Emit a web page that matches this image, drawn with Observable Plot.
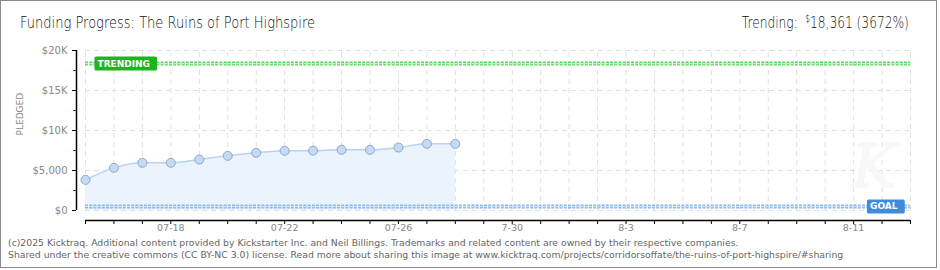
<!DOCTYPE html>
<html><head><meta charset="utf-8">
<script src="https://cdn.jsdelivr.net/npm/d3@7"></script>
<script src="https://cdn.jsdelivr.net/npm/@observablehq/plot@0.6"></script>
<style>
body{margin:0;background:#fff;}
#wrap{position:relative;width:940px;height:270px;overflow:hidden;background:#fff;}
#border{position:absolute;left:0;top:0;width:935px;height:266px;border:1px solid #8a8a8a;box-sizing:content-box;pointer-events:none;}
#chart{position:absolute;left:0;top:0;}
.hdr{position:absolute;font-family:"DejaVu Sans",sans-serif;font-weight:300;font-size:16.5px;color:#111;white-space:nowrap;line-height:1;}
#title{left:20px;top:15px;transform:scaleX(0.79);transform-origin:left top;}
#trend{right:31px;top:15px;transform:scaleX(0.74);transform-origin:right top;}
#trend sup{font-size:10px;vertical-align:top;position:relative;top:-1px;margin-left:5px;}
#foot{position:absolute;left:8px;top:237px;font-family:"DejaVu Sans",sans-serif;font-size:9.3px;color:#666;line-height:11.5px;white-space:nowrap;}
</style></head><body>
<div id="wrap">
  <div id="chart"></div>
  <div id="title" class="hdr"></div>
  <div id="trend" class="hdr"></div>
  <div id="foot"></div>
  <div id="border"></div>
</div>
<script>
// ---- data ----
const titleText = "Funding Progress: The Ruins of Port Highspire";
const dates = ["2025-07-15","2025-07-16","2025-07-17","2025-07-18","2025-07-19","2025-07-20","2025-07-21",
               "2025-07-22","2025-07-23","2025-07-24","2025-07-25","2025-07-26","2025-07-27","2025-07-28"];
const pledged = [3830, 5330, 5960, 5960, 6370, 6830, 7210, 7460, 7480, 7580, 7580, 7870, 8330, 8330];
const trending = 18361;
const trendingPct = "3672%";
const goal = 500;
const xDomain = ["2025-07-15", "2025-08-13"];
const xTickDates = ["2025-07-18","2025-07-22","2025-07-26","2025-07-30","2025-08-03","2025-08-07","2025-08-11"];
const xTickLabels = ["07-18","07-22","07-26","7-30","8-3","8-7","8-11"];
const yTicks = [0, 5000, 10000, 15000, 20000];
const yTickLabels = ["$0","$5,000","$10K","$15K","$20K"];
const yMinorTicks = [2500, 7500, 12500, 17500];
const footerLines = [
  "(c)2025 Kicktraq. Additional content provided by Kickstarter Inc. and Neil Billings. Trademarks and related content are owned by their respective companies.",
  "Shared under the creative commons (CC BY-NC 3.0) license. Read more about sharing this image at www.kicktraq.com/projects/corridorsoffate/the-ruins-of-port-highspire/#sharing"
];

// ---- build ----
document.getElementById("title").textContent = titleText;
document.getElementById("trend").innerHTML = "Trending: <sup>$</sup>" + d3.format(",")(trending) + " (" + trendingPct + ")";
document.getElementById("foot").innerHTML = footerLines.join("<br>");

const parse = d3.utcParse("%Y-%m-%d");
const data = dates.map((d, i) => ({date: parse(d), value: pledged[i]}));
const xStart = parse(xDomain[0]), xEnd = parse(xDomain[1]);
const days = d3.utcDay.range(xStart, d3.utcDay.offset(xEnd, 1));
const xLabelMap = new Map(xTickDates.map((d, i) => [+parse(d), xTickLabels[i]]));
const yLabelMap = new Map(yTicks.map((d, i) => [d, yTickLabels[i]]));
const tickFont = "DejaVu Sans, sans-serif";

const chart = Plot.plot({
  width: 940, height: 270,
  marginLeft: 76, marginRight: 30, marginTop: 50, marginBottom: 50,
  insetLeft: 9, insetBottom: 10,
  x: {type: "utc", domain: [xStart, xEnd]},
  y: {domain: [0, 20000]},
  style: {background: "transparent", fontFamily: tickFont, overflow: "visible"},
  marks: [
    // grid
    Plot.ruleX(days, {y1: 0, y2: 20000, stroke: "#e0e0e0", strokeDasharray: "5,4"}),
    Plot.ruleY(yTicks, {x1: xStart, x2: xEnd, stroke: "#e0e0e0", strokeDasharray: "5,4"}),
    // watermark
    Plot.text(["K"], {frameAnchor: "bottom-right", dx: -14, dy: -34, fontSize: 60, fontStyle: "italic",
      fontFamily: "DejaVu Serif, serif", fill: "#f8f8f8", stroke: "#f2f2f2", strokeWidth: 0.6}),
    // area, line
    Plot.areaY(data, {x: "date", y: "value", fill: "#ebf3fd", curve: "monotone-x"}),
    Plot.lineY(data, {x: "date", y: "value", stroke: "#b7d3f1", strokeWidth: 1.5, curve: "monotone-x"}),
    // goal line
    Plot.ruleY([goal], {x1: xStart, x2: xEnd, stroke: "#8db8ea", strokeWidth: 4, strokeDasharray: "3,1.2"}),
    Plot.ruleY([goal], {x1: xStart, x2: xEnd, stroke: "#d6e6f8", strokeWidth: 1.2, strokeDasharray: "3,1.2"}),
    // trending line
    Plot.ruleY([trending], {x1: xStart, x2: xEnd, stroke: "#5fd35f", strokeWidth: 4, strokeDasharray: "3,1.2"}),
    Plot.ruleY([trending], {x1: xStart, x2: xEnd, stroke: "#c9f2c9", strokeWidth: 1.2, strokeDasharray: "3,1.2"}),
    // points
    Plot.dot(data, {x: "date", y: "value", r: 4.5, fill: "#c3dbf5", stroke: "#8ea9c9", strokeWidth: 1}),
    // labels
    Plot.text([trending], {x: xStart, y: d => d, text: () => "TRENDING", dx: 12, textAnchor: "start",
      fill: "white", fontSize: 9, fontWeight: "bold", fontFamily: tickFont, className: "lbl-trend"}),
    Plot.text([goal], {x: xEnd, y: d => d, text: () => "GOAL", dx: -13, textAnchor: "end",
      fill: "white", fontSize: 9, fontWeight: "bold", fontFamily: tickFont, className: "lbl-goal"}),
    // axis lines
    Plot.ruleX([xStart], {y1: 0, y2: 20000, dx: -9, stroke: "#000", strokeWidth: 1.5}),
    Plot.ruleY([0], {x1: xStart, x2: xEnd, dy: 10, stroke: "#000", strokeWidth: 1.5}),
    // y axis
    Plot.axisY(yTicks, {anchor: "left", tickSize: 4, tickPadding: 5, label: null,
      tickFormat: d => yLabelMap.get(d), stroke: "#000", fill: "#888", fontSize: 10}),
    Plot.axisY(yMinorTicks, {anchor: "left", tickSize: 3, label: null, tickFormat: () => "",
      stroke: "#e00000"}),
    // x axis
    Plot.axisX(days, {anchor: "bottom", tickSize: 4, label: null, tickFormat: () => "", stroke: "#000"}),
    Plot.axisX(xTickDates.map(parse), {anchor: "bottom", tickSize: 0, tickPadding: 4, label: null,
      tickFormat: d => xLabelMap.get(+d), fill: "#888", fontSize: 9.5}),
    // y label
    Plot.text(["PLEDGED"], {frameAnchor: "left", dx: -56, dy: 0, rotate: -90, fill: "#888",
      fontSize: 9, fontFamily: tickFont})
  ]
});
document.getElementById("chart").appendChild(chart);

// label boxes behind the TRENDING / GOAL texts
[["lbl-trend", "#1db51d"], ["lbl-goal", "#3f8cdb"]].forEach(([cls, color]) => {
  d3.select(chart).selectAll("g." + cls + " text").each(function () {
    const b = this.getBBox();
    const cy = b.y + b.height / 2;
    d3.select(this.parentNode).insert("rect", () => this)
      .attr("x", b.x - 3).attr("y", cy - 7).attr("width", b.width + 10).attr("height", 14)
      .attr("rx", 1.5).attr("fill", color).attr("transform", this.getAttribute("transform"));
  });
});
</script>
</body></html>
